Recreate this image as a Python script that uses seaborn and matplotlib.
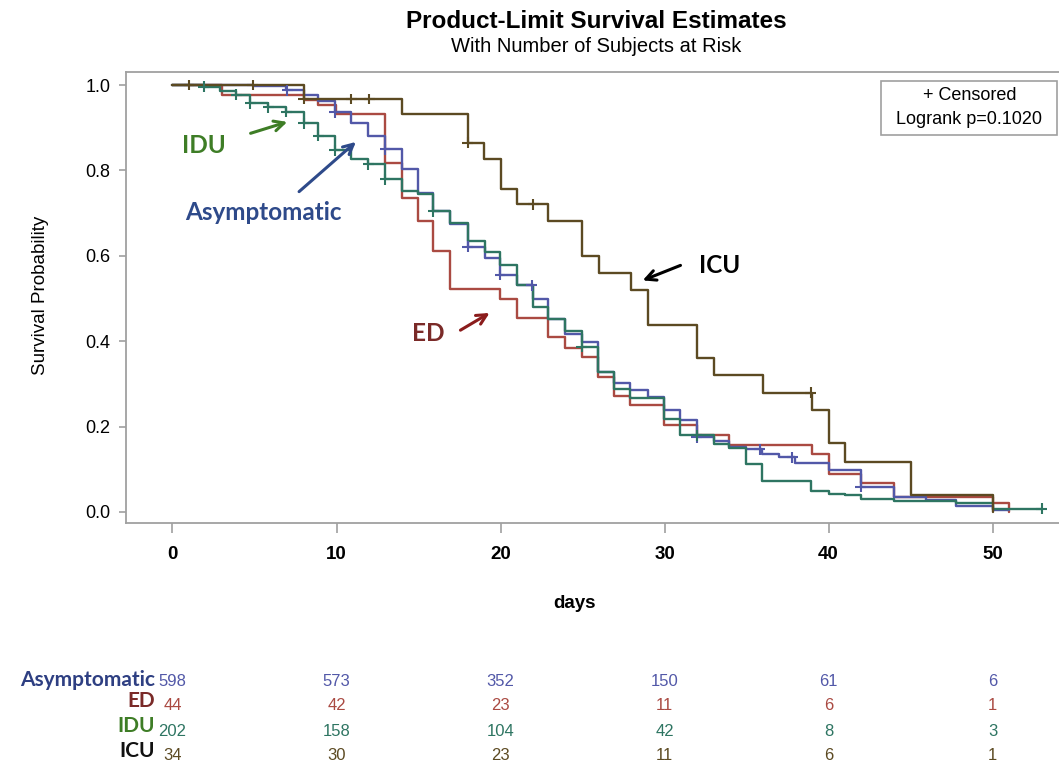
import numpy as np
import pandas as pd
import seaborn as sns
import matplotlib.pyplot as plt
from matplotlib.patches import Rectangle
from matplotlib.transforms import blended_transform_factory

# Kaplan-Meier steps: drop days and survival after each drop
asy_t = [4.9, 6.9, 8.0, 8.9, 9.9, 10.9, 11.95, 12.95, 14.0, 14.95, 15.9, 16.9, 18.0,
         19.05, 19.97, 21.0, 22.0, 22.9, 23.95, 24.95, 25.95, 26.9, 27.9, 29.0, 29.95,
         30.95, 31.95, 33.0, 33.95, 34.95, 35.95, 36.95, 37.95, 40.0, 41.95, 44.0,
         45.95, 47.8, 50.0]
asy_s = [0.997, 0.988, 0.977, 0.962, 0.936, 0.910, 0.881, 0.849, 0.803, 0.748, 0.704,
         0.675, 0.621, 0.596, 0.555, 0.531, 0.499, 0.452, 0.417, 0.399, 0.329, 0.302,
         0.286, 0.270, 0.239, 0.216, 0.175, 0.167, 0.153, 0.147, 0.135, 0.128, 0.115,
         0.099, 0.059, 0.035, 0.027, 0.013, 0.004]
asy_end = 51.0
asy_cens = [7.0, 9.9, 12.95, 18.0, 19.97, 21.9, 31.95, 35.8, 37.8, 41.95]

ed_t = [3.0, 8.0, 8.9, 9.95, 12.95, 14.0, 14.95, 15.9, 16.9, 19.95, 21.0, 22.9, 23.95,
        24.95, 25.95, 26.9, 27.9, 29.95, 31.95, 33.95, 39.0, 40.0, 42.0, 44.0, 50.0, 51.0]
ed_s = [0.977, 0.966, 0.954, 0.932, 0.818, 0.735, 0.682, 0.612, 0.522, 0.498, 0.454,
        0.409, 0.385, 0.363, 0.317, 0.271, 0.250, 0.204, 0.181, 0.157, 0.136, 0.090,
        0.067, 0.034, 0.022, 0.0]
ed_end = 51.0
ed_cens = []

idu_t = [1.9, 2.9, 3.9, 4.75, 5.85, 6.95, 8.0, 8.9, 9.9, 10.9, 11.95, 12.95, 14.0,
         14.95, 15.9, 16.9, 18.0, 19.05, 19.97, 21.0, 22.0, 22.9, 23.95, 24.95, 25.95,
         26.9, 27.9, 29.95, 30.95, 33.0, 33.95, 34.95, 35.95, 38.95, 40.0, 41.0, 41.95,
         44.0, 47.8, 50.0]
idu_s = [0.996, 0.987, 0.977, 0.957, 0.948, 0.937, 0.910, 0.881, 0.847, 0.826, 0.814,
         0.779, 0.751, 0.745, 0.704, 0.676, 0.634, 0.610, 0.579, 0.531, 0.479, 0.452,
         0.423, 0.387, 0.329, 0.288, 0.268, 0.218, 0.180, 0.160, 0.151, 0.112, 0.073,
         0.050, 0.043, 0.039, 0.031, 0.026, 0.022, 0.008]
idu_end = 53.0
idu_cens = [1.9, 3.9, 4.75, 5.85, 6.95, 8.0, 8.9, 9.9, 11.95, 12.95, 15.9, 24.95,
            31.95, 53.0]

icu_t = [8.0, 14.0, 18.0, 19.0, 20.0, 21.0, 22.9, 24.95, 26.0, 27.95, 29.0, 32.0, 33.0,
         36.0, 39.0, 40.0, 41.0, 45.0, 50.0]
icu_s = [0.967, 0.933, 0.865, 0.826, 0.757, 0.721, 0.681, 0.599, 0.560, 0.521, 0.438,
         0.361, 0.322, 0.279, 0.239, 0.162, 0.118, 0.039, 0.0]
icu_end = 50.0
icu_cens = [1.0, 4.9, 8.0, 10.9, 12.0, 18.0, 22.0, 38.9]

# number at risk table
risk_days = [0, 10, 20, 30, 40, 50]
asy_risk = [598, 573, 352, 150, 61, 6]
ed_risk = [44, 42, 23, 11, 6, 1]
idu_risk = [202, 158, 104, 42, 8, 3]
icu_risk = [34, 30, 23, 11, 6, 1]

groups = ['ED', 'Asymptomatic', 'IDU', 'ICU']
line_colors = {'Asymptomatic': '#5258a8', 'ED': '#aa4a42', 'IDU': '#2e7562', 'ICU': '#5c4a22'}
label_colors = {'Asymptomatic': '#2e3f82', 'ED': '#7a2a28', 'IDU': '#3e7d26', 'ICU': '#111111'}

series = {
    'Asymptomatic': (asy_t, asy_s, asy_end, asy_cens, asy_risk),
    'ED': (ed_t, ed_s, ed_end, ed_cens, ed_risk),
    'IDU': (idu_t, idu_s, idu_end, idu_cens, idu_risk),
    'ICU': (icu_t, icu_s, icu_end, icu_cens, icu_risk),
}


def surv_at(times, surv, t):
    i = np.searchsorted(times, t, side='right')
    return 1.0 if i == 0 else surv[i - 1]


rows, cens_rows = [], []
for g in groups:
    t, s, end, cens, _ = series[g]
    for d, v in zip([0.0] + t + [end], [1.0] + s + [s[-1]]):
        rows.append({'day': d, 'surv': v, 'group': g})
    for c in cens:
        cens_rows.append({'day': c, 'surv': surv_at(t, s, c), 'group': g})
curves = pd.DataFrame(rows)
censored = pd.DataFrame(cens_rows)

sns.set_style('white')
plt.rcParams['font.family'] = ['Liberation Sans', 'DejaVu Sans']
plt.rcParams['text.color'] = 'black'
plt.rcParams['xtick.color'] = 'black'
plt.rcParams['ytick.color'] = 'black'

fig = plt.figure(figsize=(10.59, 7.65), dpi=100)
W, H = 1059, 765
ax = fig.add_axes([126 / W, 1 - 523.3 / H, 1 - 126 / W, (523.3 - 72) / H])

sns.lineplot(data=curves, x='day', y='surv', hue='group', hue_order=groups,
             palette=line_colors, drawstyle='steps-post', estimator=None, sort=False,
             linewidth=1.7, legend=False, ax=ax)
sns.scatterplot(data=censored, x='day', y='surv', hue='group', hue_order=groups,
                palette=line_colors, marker='+', s=60, linewidth=1.5, legend=False,
                ax=ax, zorder=3)

ax.set_xlim(-2.835, 54.05)
ax.set_ylim(-0.0265, 1.0305)
ax.set_xticks(risk_days)
ax.set_yticks(np.arange(0, 1.01, 0.2))
ax.set_yticklabels([f'{v:.1f}' for v in np.arange(0, 1.01, 0.2)], fontsize=13)
ax.set_xticklabels([str(d) for d in risk_days], fontsize=13.5, fontweight='bold')
ax.tick_params(axis='both', bottom=True, left=True, direction='out', length=5,
               width=1.2, color='#a0a0a0', labelcolor='black')
ax.tick_params(axis='x', length=7, pad=9)
ax.tick_params(axis='y', pad=6)
ax.set_xlabel('')
ax.set_ylabel('')
for side in ['left', 'top', 'bottom']:
    ax.spines[side].set_color('#a0a0a0')
    ax.spines[side].set_linewidth(1.3)
ax.spines['right'].set_visible(False)

# titles and axis labels
fig.text(596 / W, 1 - 21 / H, 'Product-Limit Survival Estimates', ha='center', va='center',
         fontsize=17.5, fontweight='bold')
fig.text(596 / W, 1 - 47 / H, 'With Number of Subjects at Risk', ha='center', va='center',
         fontsize=14.5)
fig.text(41 / W, 1 - 295 / H, 'Survival Probability', rotation=90, ha='center', va='center',
         fontsize=13.5)
fig.text(575 / W, 1 - 603 / H, 'days', ha='center', va='center', fontsize=13.5,
         fontweight='bold')

# censor / logrank box
fig.patches.append(Rectangle((881 / W, 1 - 135 / H), (1057 - 881) / W, 54 / H,
                             transform=fig.transFigure, facecolor='white',
                             edgecolor='#a0a0a0', linewidth=1.2, zorder=5))
fig.text(970 / W, 1 - 95 / H, '+ Censored', ha='center', va='center', fontsize=13, zorder=6)
fig.text(969 / W, 1 - 119 / H, 'Logrank p=0.1020', ha='center', va='center', fontsize=13,
         zorder=6)

# group annotations with arrows
bold_font = ['Lato', 'DejaVu Sans']
ax.annotate('', xy=(7.16, 0.9155), xytext=(4.60, 0.885),
            arrowprops=dict(arrowstyle='->', color='#3e7d26', lw=2.2, mutation_scale=18))
ax.text(1.92, 0.859, 'IDU', color='#3e7d26', fontsize=17.5, fontweight='bold',
        family=bold_font, ha='center', va='center')
ax.annotate('', xy=(11.31, 0.871), xytext=(7.59, 0.746),
            arrowprops=dict(arrowstyle='->', color='#2e4a8a', lw=2.2, mutation_scale=18))
ax.text(5.52, 0.702, 'Asymptomatic', color='#2e4a8a', fontsize=17.5, fontweight='bold',
        family=bold_font, ha='center', va='center')
ax.annotate('', xy=(28.51, 0.540), xytext=(31.13, 0.580),
            arrowprops=dict(arrowstyle='->', color='black', lw=2.2, mutation_scale=18))
ax.text(33.38, 0.5775, 'ICU', color='black', fontsize=17.5, fontweight='bold',
        family=bold_font, ha='center', va='center')
ax.annotate('', xy=(19.48, 0.4695), xytext=(17.41, 0.4225),
            arrowprops=dict(arrowstyle='->', color='#8b1c1c', lw=2.2, mutation_scale=18))
ax.text(15.58, 0.418, 'ED', color='#7a2a28', fontsize=17.5, fontweight='bold',
        family=bold_font, ha='center', va='center')

# number at risk table
trans = blended_transform_factory(ax.transData, fig.transFigure)
table_order = ['Asymptomatic', 'ED', 'IDU', 'ICU']
num_y = [682, 706, 731, 756]
lab_y = [680, 701, 726, 751]
for g, ny, ly in zip(table_order, num_y, lab_y):
    fig.text(155 / W, 1 - ly / H, g, ha='right', va='center', fontsize=15,
             fontweight='bold', color=label_colors[g], family=bold_font)
    for d, n in zip(risk_days, series[g][4]):
        ax.text(d, 1 - ny / H, str(n), transform=trans, ha='center', va='center',
                fontsize=12, color=line_colors[g], clip_on=False)

fig.savefig('out.png', dpi=100)
